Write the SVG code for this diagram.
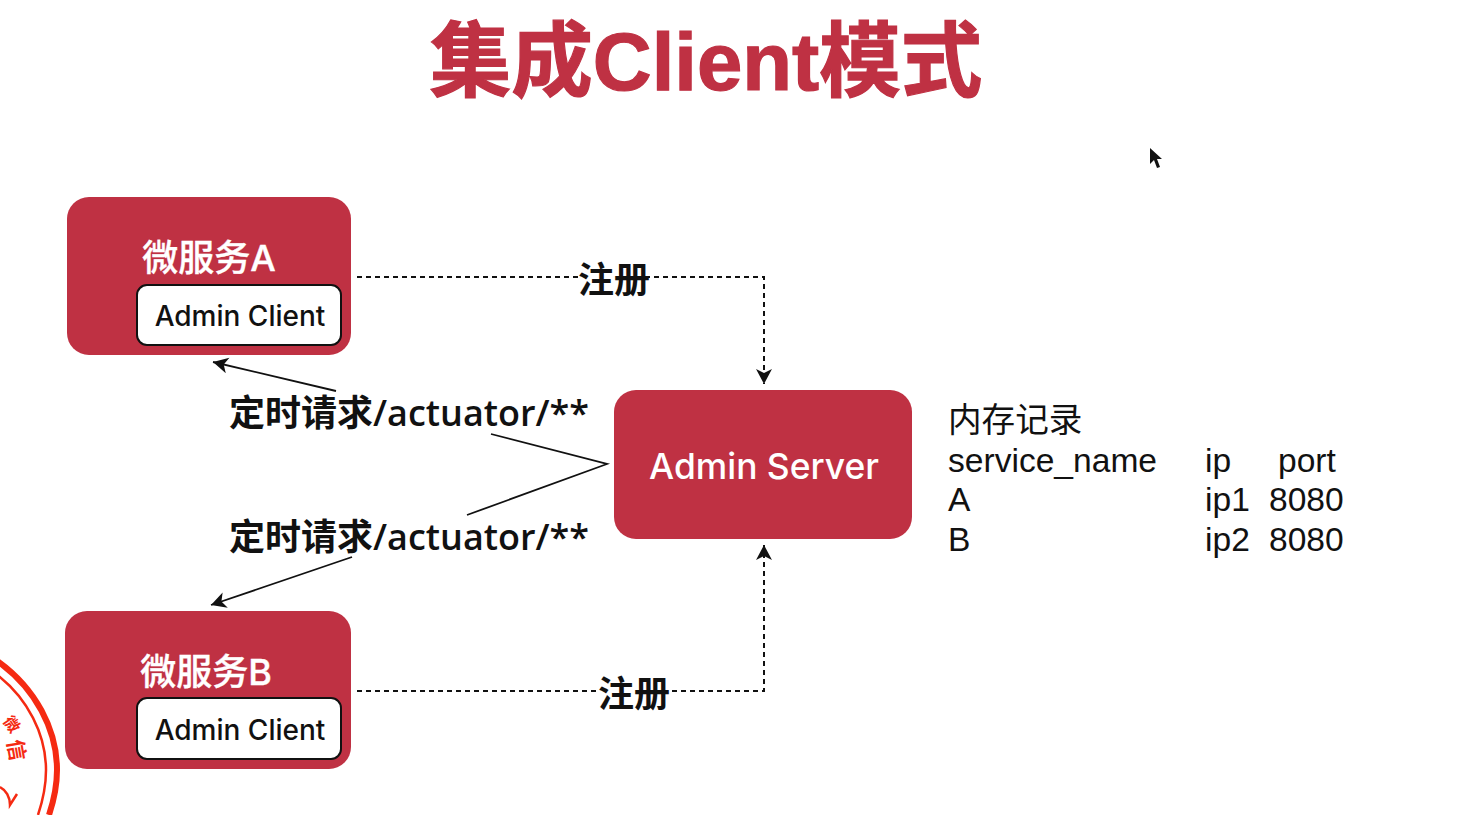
<svg xmlns="http://www.w3.org/2000/svg" width="1480" height="815" viewBox="0 0 1480 815">
<style>
text{font-family:"Liberation Sans","Noto Sans CJK SC",sans-serif}
.card{fill:#bf3143}
.inner{fill:#fff;stroke:#111;stroke-width:2}
.h{fill:#fff;font-size:36px;font-family:Inter,"Noto Sans CJK SC",sans-serif;font-weight:500;stroke:#fff;stroke-width:.4;text-anchor:middle}
.c{font-family:Inter,"Noto Sans CJK SC",sans-serif;font-weight:500;fill:#111;font-size:28px;text-anchor:middle}
.sv{font-family:Inter,sans-serif;font-weight:500;font-size:35.4px;fill:#fff;text-anchor:middle}
.l{fill:#111;font-size:36px;font-family:"Open Sans","Noto Sans CJK SC",sans-serif;font-weight:600}
.t{fill:#111;font-size:33.6px}
.d{fill:none;stroke:#111;stroke-width:2;stroke-dasharray:5 4}
.s{fill:none;stroke:#111;stroke-width:1.8}
</style>
<defs>
<marker id="arrow" markerUnits="userSpaceOnUse" markerWidth="20" markerHeight="20" refX="16" refY="8" orient="auto"><path d="M1 0L16 8L1 16L5 8Z" fill="#111"/></marker>
</defs>
<rect width="1480" height="815" fill="#fff"/>
<text id="title" x="706" y="90" text-anchor="middle" font-size="81.5" font-weight="700" fill="#bf3143" stroke="#bf3143" stroke-width="1.2">集成Client模式</text>
<g id="connectors">
<path class="d" d="M357 277H764V384" marker-end="url(#arrow)"/>
<path class="d" d="M357 691H764V545" marker-end="url(#arrow)"/>
<path class="s" d="M336 391L213 362" marker-end="url(#arrow)"/>
<path class="s" d="M491 434L607 464L467 515"/>
<path class="s" d="M352 557L211 605" marker-end="url(#arrow)"/>
</g>
<g id="node-a">
<rect class="card" x="67" y="197" width="284" height="158" rx="22"/>
<text class="h" x="209" y="271">微服务A</text>
<rect class="inner" x="137" y="285" width="204" height="60" rx="10"/>
<text class="c" x="240" y="326">Admin Client</text>
</g>
<g id="node-b">
<rect class="card" x="65" y="611" width="286" height="158" rx="22"/>
<text class="h" x="206" y="685">微服务B</text>
<rect class="inner" x="137" y="698" width="204" height="61" rx="10"/>
<text class="c" x="240" y="740">Admin Client</text>
</g>
<g id="node-server">
<rect class="card" x="614" y="390" width="298" height="149" rx="22"/>
<text class="sv" x="764" y="479">Admin Server</text>
</g>
<g id="labels">
<rect x="578" y="260" width="70" height="40" fill="#fff"/>
<text class="l" x="578" y="293">注册</text>
<rect x="598" y="674" width="70" height="40" fill="#fff"/>
<text class="l" x="598" y="707">注册</text>
<text class="l" x="229" y="426">定时请求/actuator/**</text>
<text class="l" x="229" y="550">定时请求/actuator/**</text>
</g>
<g id="table">
<text class="t" x="948" y="432">内存记录</text>
<text class="t" x="948" y="472">service_name</text>
<text class="t" x="1205" y="472">ip</text>
<text class="t" x="1278" y="472">port</text>
<text class="t" x="948" y="511">A</text>
<text class="t" x="1205" y="511">ip1</text>
<text class="t" x="1269" y="511">8080</text>
<text class="t" x="948" y="551">B</text>
<text class="t" x="1205" y="551">ip2</text>
<text class="t" x="1269" y="551">8080</text>
</g>
<path id="cursor" d="M1150 148L1150 164L1154 160L1157 168L1160 167L1157 159L1162 159Z" fill="#111"/>
<g id="stamp" fill="none" stroke="#f52a12">
<path d="M-4 660C36 688 57 730 57 770C57 785 54 800 49 815" stroke-width="6"/>
<path d="M-4 674C28 698 46 735 46 770C46 785 43 800 38 815" stroke-width="2.5"/>
<path d="M0 787C6 790 10 797 10 805L17 794" stroke-width="2.5"/>
<text x="12" y="730" font-size="16" font-weight="700" fill="#f52a12" stroke="none" transform="rotate(55 12 724)" text-anchor="middle">微</text>
<text x="16" y="757" font-size="21" font-weight="700" fill="#f52a12" stroke="none" transform="rotate(80 16 750)" text-anchor="middle">信</text>
</g>
</svg>
